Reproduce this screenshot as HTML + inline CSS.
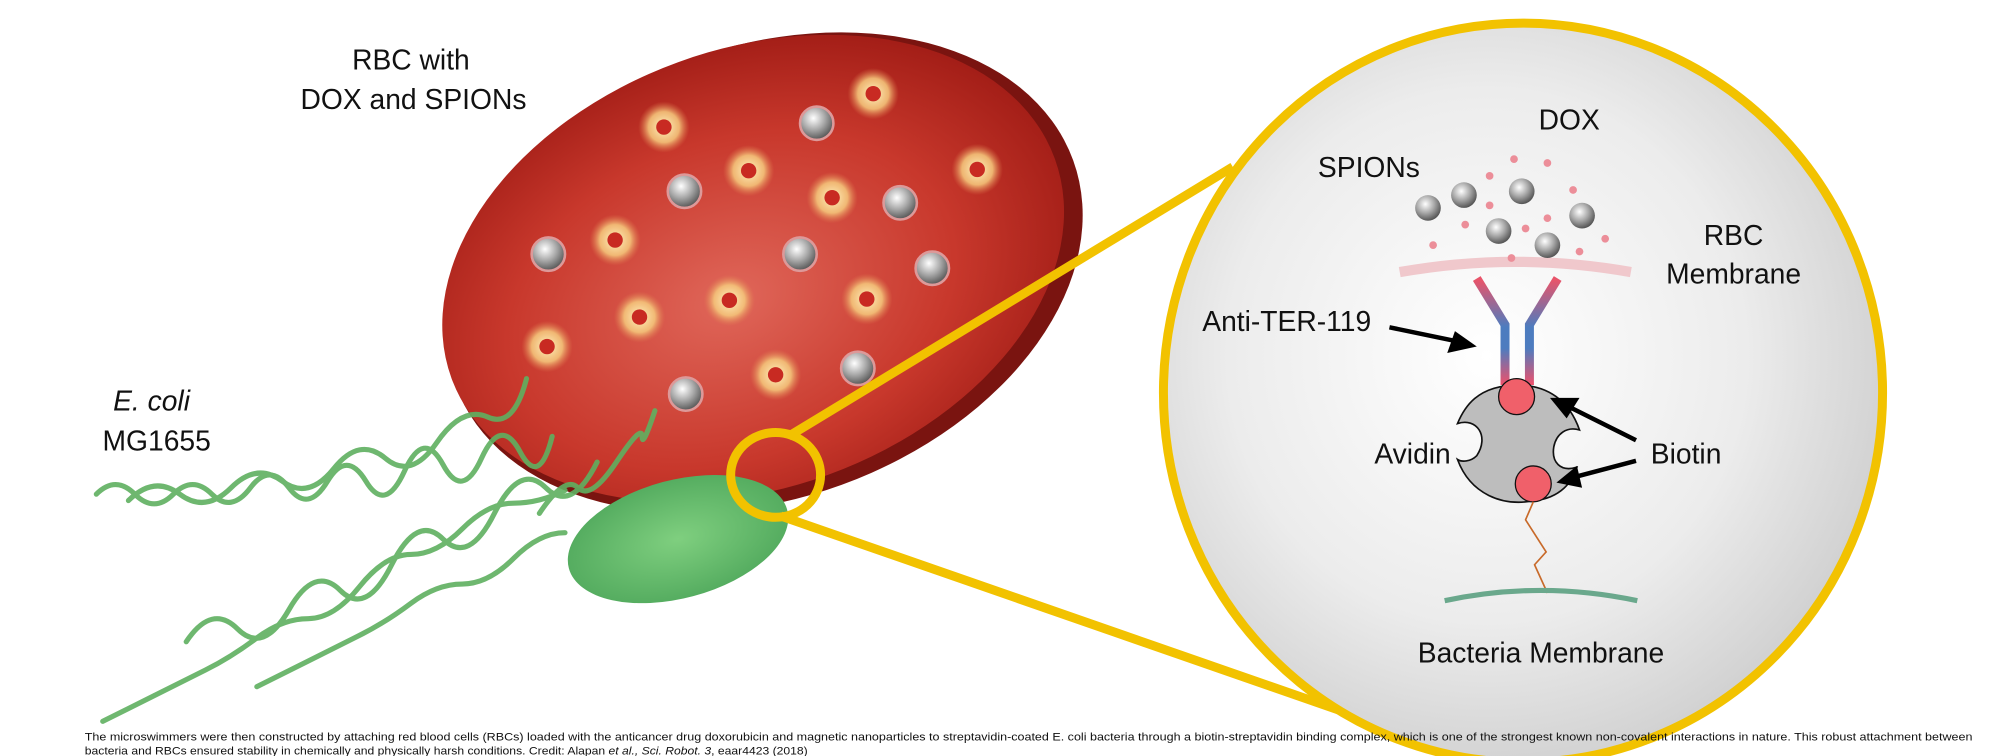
<!DOCTYPE html>
<html><head><meta charset="utf-8"><style>
html,body{margin:0;padding:0;background:#fff;}
svg{display:block;}
text{font-family:"Liberation Sans",sans-serif;fill:#111;}
</style></head><body>
<svg width="1993" height="756" viewBox="0 0 1552 589" preserveAspectRatio="none" xmlns="http://www.w3.org/2000/svg">
<defs>
<radialGradient id="bg" cx="0.45" cy="0.45" r="0.6">
<stop offset="0" stop-color="#ffffff"/><stop offset="0.6" stop-color="#ececec"/><stop offset="1" stop-color="#cdcdcd"/>
</radialGradient>
<radialGradient id="rbc" cx="0.45" cy="0.55" r="0.6">
<stop offset="0" stop-color="#e0675a"/><stop offset="0.6" stop-color="#c8382c"/><stop offset="1" stop-color="#9e1a14"/>
</radialGradient>
<radialGradient id="sil" cx="0.4" cy="0.35" r="0.7">
<stop offset="0" stop-color="#ffffff"/><stop offset="0.5" stop-color="#a8a8a8"/><stop offset="1" stop-color="#4a4a4a"/>
</radialGradient>
<radialGradient id="glow" cx="0.5" cy="0.5" r="0.5">
<stop offset="0" stop-color="#fff3c0"/><stop offset="0.6" stop-color="#f4c47a" stop-opacity="0.9"/><stop offset="1" stop-color="#e08050" stop-opacity="0"/>
</radialGradient>
<radialGradient id="bac" cx="0.5" cy="0.5" r="0.6">
<stop offset="0" stop-color="#7fcf7f"/><stop offset="1" stop-color="#4da65a"/>
</radialGradient>
<linearGradient id="ab" x1="0" y1="218" x2="0" y2="300" gradientUnits="userSpaceOnUse">
<stop offset="0" stop-color="#e8546a"/><stop offset="0.45" stop-color="#4d7cbf"/><stop offset="0.65" stop-color="#4d7cbf"/><stop offset="1" stop-color="#f0506a"/>
</linearGradient>
</defs>

<!-- RBC -->
<g transform="rotate(-20 590 210)">
<ellipse cx="594" cy="214" rx="256" ry="176" fill="#7a1410"/>
<ellipse cx="587" cy="208" rx="250" ry="171" fill="url(#rbc)"/>
</g>
<g fill="url(#glow)">
<circle cx="680" cy="73" r="20"/><circle cx="517" cy="99" r="20"/><circle cx="583" cy="133" r="20"/><circle cx="648" cy="154" r="20"/><circle cx="761" cy="132" r="20"/><circle cx="479" cy="187" r="20"/><circle cx="498" cy="247" r="20"/><circle cx="568" cy="234" r="20"/><circle cx="675" cy="233" r="20"/><circle cx="426" cy="270" r="20"/><circle cx="604" cy="292" r="20"/>
</g>
<g fill="#c82a22">
<circle cx="680" cy="73" r="6"/><circle cx="517" cy="99" r="6"/><circle cx="583" cy="133" r="6"/><circle cx="648" cy="154" r="6"/><circle cx="761" cy="132" r="6"/><circle cx="479" cy="187" r="6"/><circle cx="498" cy="247" r="6"/><circle cx="568" cy="234" r="6"/><circle cx="675" cy="233" r="6"/><circle cx="426" cy="270" r="6"/><circle cx="604" cy="292" r="6"/>
</g>
<g fill="url(#sil)" stroke="#d99" stroke-width="2">
<circle cx="636" cy="96" r="13"/><circle cx="533" cy="149" r="13"/><circle cx="701" cy="158" r="13"/><circle cx="427" cy="198" r="13"/><circle cx="623" cy="198" r="13"/><circle cx="726" cy="209" r="13"/><circle cx="668" cy="287" r="13"/><circle cx="534" cy="307" r="13"/>
</g>

<!-- flagella -->
<g fill="none" stroke="#5fb060" stroke-width="4" stroke-linecap="round" opacity="0.9">
<path d="M75 385 q15 -15 30 0 t30 0 t30 0 t30 -5 t30 0 t30 -5 t30 0 t30 -8 t30 -5 t30 -5 t30 -5 t25 -12"/>
<path d="M100 390 q20 -20 40 -5 t40 -5 t40 -5 t40 -10 t40 -8 t40 -12 t40 -20 t30 -30"/>
<path d="M145 500 q20 -30 40 -10 t40 -15 t40 -15 t40 -20 t40 -20 t40 -20 t40 -20 t40 -20"/>
<path d="M80 562 q20 -10 40 -20 t40 -20 t40 -25 t40 -15 t40 -25 t40 -25 t40 -20 t40 -20 t40 -10"/>
<path d="M200 535 q20 -10 40 -20 t40 -20 t40 -25 t40 -15 t40 -20 t40 -20"/>
<path d="M420 400 q20 -30 30 -20 t30 -20 t20 -20 t10 -20"/>
</g>

<!-- bacterium -->
<ellipse cx="528" cy="420" rx="88" ry="46" transform="rotate(-15 528 420)" fill="url(#bac)"/>

<!-- zoom lines -->
<g stroke="#f2c200" stroke-width="7" fill="none">
<line x1="614" y1="340" x2="960" y2="130"/>
<line x1="608" y1="402" x2="1062" y2="560"/>
<ellipse cx="604" cy="370" rx="35" ry="33"/>
</g>

<!-- big circle -->
<ellipse cx="1186" cy="306" rx="280" ry="288" fill="url(#bg)" stroke="#f2c200" stroke-width="7"/>

<!-- RBC membrane -->
<path d="M1090 212 Q1180 196 1270 212" fill="none" stroke="#f0c8cc" stroke-width="8"/>
<!-- SPIONs & DOX -->
<g fill="url(#sil)">
<circle cx="1112" cy="162" r="10"/><circle cx="1140" cy="152" r="10"/><circle cx="1185" cy="149" r="10"/><circle cx="1232" cy="168" r="10"/><circle cx="1167" cy="180" r="10"/><circle cx="1205" cy="191" r="10"/>
</g>
<g fill="#ec8e99">
<circle cx="1179" cy="124" r="3"/><circle cx="1205" cy="127" r="3"/><circle cx="1160" cy="137" r="3"/><circle cx="1225" cy="148" r="3"/><circle cx="1160" cy="160" r="3"/><circle cx="1205" cy="170" r="3"/><circle cx="1141" cy="175" r="3"/><circle cx="1188" cy="178" r="3"/><circle cx="1250" cy="186" r="3"/><circle cx="1116" cy="191" r="3"/><circle cx="1177" cy="201" r="3"/><circle cx="1230" cy="196" r="3"/>
</g>
<!-- antibody -->
<path d="M1150 217 L1172 253 L1172 300 M1213 217 L1191 253 L1191 300" fill="none" stroke="url(#ab)" stroke-width="7"/>
<!-- avidin -->
<path d="M1182 300 C1150 300 1140 318 1135 330 C1150 325 1160 340 1150 355 C1145 360 1138 360 1135 358 C1145 385 1170 395 1195 390 C1215 388 1225 375 1228 364 C1215 368 1208 360 1210 348 C1212 338 1220 332 1230 335 C1222 312 1205 300 1182 300 Z" fill="#bdbdbd" stroke="#111" stroke-width="1.3"/>
<circle cx="1181" cy="309" r="14" fill="#f0606a" stroke="#111" stroke-width="1"/>
<circle cx="1194" cy="377" r="14" fill="#f0606a" stroke="#111" stroke-width="1"/>
<path d="M1194 391 L1188 405 L1204 430 L1195 440 L1205 462" fill="none" stroke="#c86a2a" stroke-width="1.3"/>
<!-- bacteria membrane -->
<path d="M1125 468 Q1200 452 1275 468" fill="none" stroke="#6aa88c" stroke-width="4"/>
<!-- arrows -->
<g stroke="#000" stroke-width="3.5" fill="#000">
<line x1="1082" y1="255" x2="1135" y2="266"/>
<polygon points="1150,270 1127,275 1133,258" stroke="none"/>
<line x1="1274" y1="343" x2="1220" y2="316"/>
<polygon points="1207,310 1230,310 1220,326" stroke="none"/>
<line x1="1274" y1="359" x2="1225" y2="372"/>
<polygon points="1212,376 1228,363 1232,380" stroke="none"/>
</g>

<!-- labels -->
<g font-size="22" text-anchor="middle">
<text x="320" y="54">RBC with</text>
<text x="322" y="85">DOX and SPIONs</text>
<text x="118" y="320" font-style="italic">E. coli</text>
<text x="122" y="351">MG1655</text>
<text x="1222" y="101">DOX</text>
<text x="1066" y="138">SPIONs</text>
<text x="1350" y="191">RBC</text>
<text x="1350" y="221">Membrane</text>
<text x="1002" y="258">Anti-TER-119</text>
<text x="1100" y="361">Avidin</text>
<text x="1313" y="361">Biotin</text>
<text x="1200" y="516">Bacteria Membrane</text>
</g>
<g font-size="8.3">
<text x="66" y="577" textLength="1470" lengthAdjust="spacingAndGlyphs">The microswimmers were then constructed by attaching red blood cells (RBCs) loaded with the anticancer drug doxorubicin and magnetic nanoparticles to streptavidin-coated E. coli bacteria through a biotin-streptavidin binding complex, which is one of the strongest known non-covalent interactions in nature. This robust attachment between</text>
<text x="66" y="588" textLength="563" lengthAdjust="spacingAndGlyphs">bacteria and RBCs ensured stability in chemically and physically harsh conditions. Credit: Alapan <tspan font-style="italic">et al., Sci. Robot. 3</tspan>, eaar4423 (2018)</text>
</g>
</svg>
</body></html>
